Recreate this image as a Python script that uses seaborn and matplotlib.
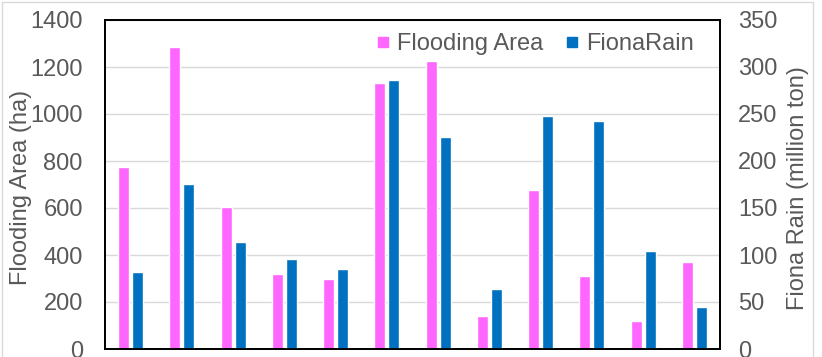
import matplotlib
matplotlib.use("Agg")
import matplotlib.pyplot as plt
import seaborn as sns
import pandas as pd
from matplotlib.lines import Line2D
from matplotlib.patches import Rectangle

# ---- data ----
events = [f"E{i}" for i in range(1, 13)]
flooding_area = [774, 1287, 603, 319, 299, 1132, 1227, 142, 675, 309, 119, 370]
fiona_rain = [82, 176, 114, 96, 85, 286, 226, 63.5, 248, 243, 104, 45]
series = ["Flooding Area", "FionaRain"]
left_ticks = [0, 200, 400, 600, 800, 1000, 1200, 1400]
right_ticks = [0, 50, 100, 150, 200, 250, 300, 350]

colors = {"Flooding Area": "#FF66FF", "FionaRain": "#0070C0"}
text_color = "#595959"
FS = 17

sns.set_theme(style="white")
plt.rcParams['font.family'] = ['Liberation Sans', 'DejaVu Sans']

fig = plt.figure(figsize=(8.22, 3.57), dpi=100)
ax = fig.add_axes([105 / 822, 8 / 357, 615 / 822, 329 / 357])

df_a = pd.DataFrame({"event": events, "value": flooding_area, "series": series[0]})
df_r = pd.DataFrame({"event": events, "value": fiona_rain, "series": series[1]})

common = dict(x="event", y="value", hue="series", hue_order=series, order=events,
              palette=colors, width=0.55, gap=0.22, saturation=1, dodge=True,
              errorbar=None, legend=False, zorder=2)

sns.barplot(data=df_a, ax=ax, **common)
ax.set_ylim(0, 1400)
ax.set_yticks(left_ticks)
ax.yaxis.grid(True, color="#D9D9D9", linewidth=1, zorder=0)
ax.set_axisbelow(True)

ax2 = ax.twinx()
sns.barplot(data=df_r, ax=ax2, **common)
ax2.set_ylim(0, 350)
ax2.set_yticks(right_ticks)
ax2.grid(False)

for a in (ax, ax2):
    a.set_xlabel("")
    a.set_xticklabels([])
    a.tick_params(axis="x", length=0)
    for s in a.spines.values():
        s.set_visible(True)
        s.set_color("black")
        s.set_linewidth(1.3)

ax.tick_params(axis="y", length=0, pad=16, labelsize=FS, labelcolor=text_color)
ax2.tick_params(axis="y", length=0, pad=13, labelsize=FS, labelcolor=text_color)

ax.set_ylabel("Flooding Area (ha)", fontsize=FS, color=text_color)
ax.yaxis.set_label_coords(-0.119, 0.49)
ax2.set_ylabel("Fiona Rain (million ton)", fontsize=FS, color=text_color, rotation=90)
ax2.yaxis.set_label_coords(1.109, 0.49)

handles = [Line2D([], [], marker="s", linestyle="none", markersize=7.5,
                  markerfacecolor=colors[s], markeredgecolor=colors[s]) for s in series]
ax2.legend(handles, series, loc="center right", bbox_to_anchor=(0.976, 0.927),
           ncol=2, frameon=False, fontsize=FS, labelcolor=text_color,
           borderpad=0, handlelength=0.6, handletextpad=0.3, columnspacing=0.9)

fig.patches.append(Rectangle((0.002, -0.05), 0.987, 1.044, transform=fig.transFigure,
                             fill=False, edgecolor="#D9D9D9", linewidth=1))

fig.savefig("out.png", dpi=100)
